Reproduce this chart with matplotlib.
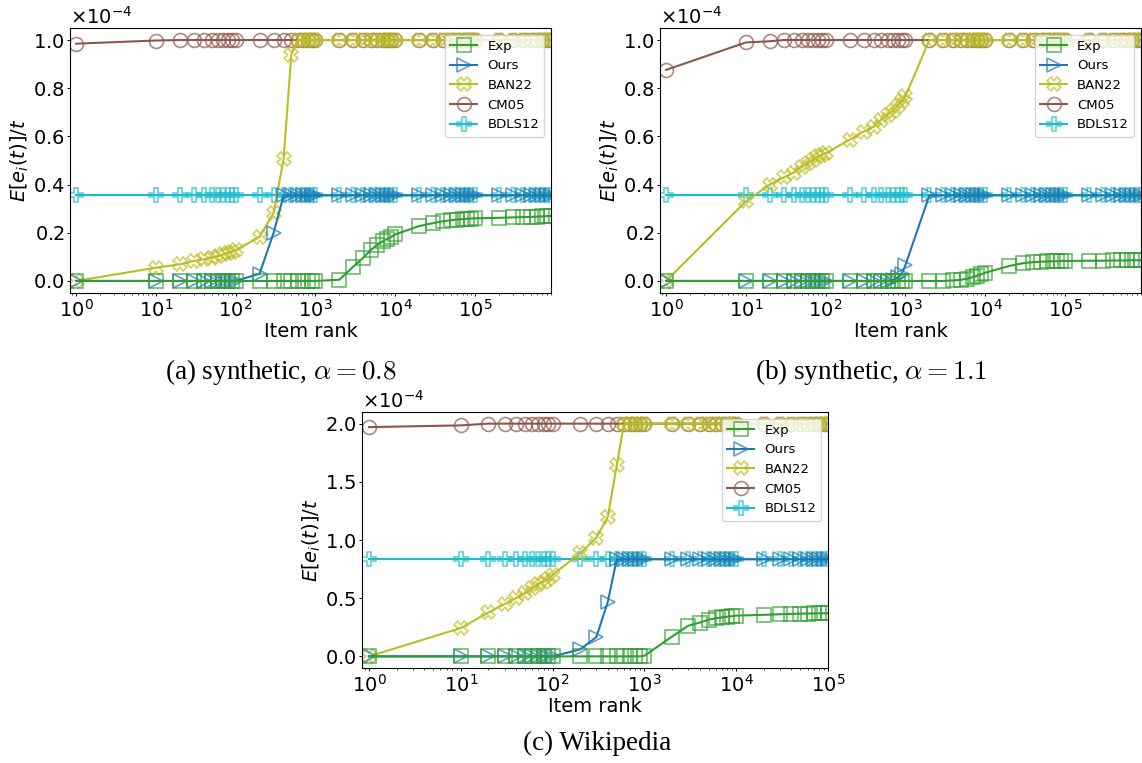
import numpy as np
import matplotlib
matplotlib.use('Agg')
import matplotlib.pyplot as plt

# item ranks at which the estimates were recorded
ranks_syn = [1, 10, 20, 30, 40, 50, 60, 70, 80, 90, 100,
             200, 300, 400, 500, 600, 700, 800, 900, 1000,
             2000, 3000, 4000, 5000, 6000, 7000, 8000, 9000, 10000,
             20000, 30000, 40000, 50000, 60000, 70000, 80000, 90000, 100000,
             200000, 300000, 400000, 500000, 600000, 700000, 800000, 900000]
ranks_wiki = ranks_syn[:38]
decades = [1e0, 1e1, 1e2, 1e3, 1e4, 1e5]

# E[e_i(t)]/t in units of 1e-4
# synthetic, alpha = 0.8
exp_a  = [0, 0, 0, 0, 0, 0, 0, 0, 0, 0, 0,
          0, 0, 0, 0, 0, 0, 0, 0, 0,
          0.005, 0.06, 0.097, 0.13, 0.15, 0.165, 0.175, 0.183, 0.193,
          0.228, 0.24, 0.248, 0.252, 0.255, 0.257, 0.258, 0.259, 0.26,
          0.262, 0.264, 0.265, 0.266, 0.267, 0.268, 0.269, 0.27]
ours_a = [0, 0, 0, 0, 0, 0, 0, 0, 0, 0, 0,
          0.03, 0.2, 0.355, 0.355, 0.355, 0.355, 0.355, 0.355, 0.355,
          0.355, 0.355, 0.355, 0.355, 0.355, 0.355, 0.355, 0.355, 0.355,
          0.355, 0.355, 0.355, 0.355, 0.355, 0.355, 0.355, 0.355, 0.355,
          0.355, 0.355, 0.355, 0.355, 0.355, 0.355, 0.355, 0.355]
ban_a  = [0, 0.055, 0.069, 0.083, 0.09, 0.097, 0.103, 0.11, 0.117, 0.121, 0.128,
          0.183, 0.283, 0.506, 0.94, 1, 1, 1, 1, 1,
          1, 1, 1, 1, 1, 1, 1, 1, 1,
          1, 1, 1, 1, 1, 1, 1, 1, 1,
          1, 1, 1, 1, 1, 1, 1, 1]
cm_a   = [0.985, 0.998, 1, 1, 1, 1, 1, 1, 1, 1, 1,
          1, 1, 1, 1, 1, 1, 1, 1, 1,
          1, 1, 1, 1, 1, 1, 1, 1, 1,
          1, 1, 1, 1, 1, 1, 1, 1, 1,
          1, 1, 1, 1, 1, 1, 1, 1]
bdls_a = [0.355] * 46

# synthetic, alpha = 1.1
exp_b  = [0, 0, 0, 0, 0, 0, 0, 0, 0, 0, 0,
          0, 0, 0, 0, 0, 0, 0, 0, 0,
          0, 0, 0.002, 0.005, 0.01, 0.016, 0.022, 0.028, 0.034,
          0.062, 0.074, 0.078, 0.08, 0.081, 0.082, 0.082, 0.083, 0.083,
          0.084, 0.084, 0.085, 0.085, 0.085, 0.086, 0.086, 0.086]
ours_b = [0, 0, 0, 0, 0, 0, 0, 0, 0, 0, 0,
          0, 0, 0, 0, 0, 0.005, 0.015, 0.03, 0.065,
          0.355, 0.355, 0.355, 0.355, 0.355, 0.355, 0.355, 0.355, 0.355,
          0.355, 0.355, 0.355, 0.355, 0.355, 0.355, 0.355, 0.355, 0.355,
          0.355, 0.355, 0.355, 0.355, 0.355, 0.355, 0.355, 0.355]
ban_b  = [0, 0.33, 0.40, 0.43, 0.45, 0.475, 0.49, 0.503, 0.517, 0.524, 0.53,
          0.586, 0.62, 0.64, 0.67, 0.69, 0.706, 0.727, 0.745, 0.766,
          1, 1, 1, 1, 1, 1, 1, 1, 1,
          1, 1, 1, 1, 1, 1, 1, 1, 1,
          1, 1, 1, 1, 1, 1, 1, 1]
cm_b   = [0.876, 0.99, 0.995, 1, 1, 1, 1, 1, 1, 1, 1,
          1, 1, 1, 1, 1, 1, 1, 1, 1,
          1, 1, 1, 1, 1, 1, 1, 1, 1,
          1, 1, 1, 1, 1, 1, 1, 1, 1,
          1, 1, 1, 1, 1, 1, 1, 1]
bdls_b = [0.355] * 46

# Wikipedia
exp_c  = [0, 0, 0, 0, 0, 0, 0, 0, 0, 0, 0,
          0, 0, 0, 0, 0, 0, 0, 0, 0.005,
          0.17, 0.263, 0.29, 0.315, 0.327, 0.335, 0.341, 0.345, 0.35,
          0.357, 0.362, 0.365, 0.367, 0.368, 0.369, 0.37, 0.37, 0.371]
ours_c = [0, 0, 0, 0, 0, 0, 0, 0, 0, 0, 0,
          0.06, 0.166, 0.47, 0.834, 0.834, 0.834, 0.834, 0.834, 0.834,
          0.834, 0.834, 0.834, 0.834, 0.834, 0.834, 0.834, 0.834, 0.834,
          0.834, 0.834, 0.834, 0.834, 0.834, 0.834, 0.834, 0.834, 0.834]
ban_c  = [0, 0.243, 0.377, 0.45, 0.5, 0.543, 0.586, 0.623, 0.643, 0.666, 0.7,
          0.886, 1.02, 1.2, 1.643, 2, 2, 2, 2, 2,
          2, 2, 2, 2, 2, 2, 2, 2, 2,
          2, 2, 2, 2, 2, 2, 2, 2, 2]
cm_c   = [1.97, 1.985, 2, 2, 2, 2, 2, 2, 2, 2, 2,
          2, 2, 2, 2, 2, 2, 2, 2, 2,
          2, 2, 2, 2, 2, 2, 2, 2, 2,
          2, 2, 2, 2, 2, 2, 2, 2, 2]
bdls_c = [0.834] * 38

names   = ['Exp', 'Ours', 'BAN22', 'CM05', 'BDLS12']
colors  = ['tab:green', 'tab:blue', 'tab:olive', 'tab:brown', 'tab:cyan']
markers = ['s', '>', 'X', 'o', 'P']

fig = plt.figure(figsize=(11.42, 7.63), dpi=100)
W, H = 1142.0, 763.0

def make_axes(x0, y0, x1, y1):
  return fig.add_axes([x0 / W, 1 - y1 / H, (x1 - x0) / W, (y1 - y0) / H])

def draw_panel(ax, ranks, series, xmax):
  handles = [None] * len(series)
  # draw back to front so Exp/Ours end up on top
  for i in reversed(range(len(series))):
    ec = matplotlib.colors.to_rgba(colors[i], 0.7)
    h, = ax.plot(ranks, np.array(series[i]) * 1e-4, color=colors[i], lw=1.5,
                 marker=markers[i], markersize=10, markerfacecolor='none',
                 markeredgecolor=ec, markeredgewidth=1.2, label=names[i])
    handles[i] = h
  ax.set_xscale('log')
  ax.set_xticks(decades)
  ax.set_xlim(0.84, xmax)
  ax.ticklabel_format(axis='y', style='sci', scilimits=(0, 0), useMathText=True)
  ax.tick_params(which='major', labelsize=14, length=2.5, width=0.7, pad=1.5)
  ax.tick_params(which='minor', length=1.5, width=0.5)
  ax.yaxis.get_offset_text().set_fontsize(14)
  ax.set_xlabel('Item rank', fontsize=14, labelpad=1)
  ax.set_ylabel(r'$E[e_i(t)]/t$', fontsize=14, labelpad=1)
  ax.legend(handles=handles, loc='upper right', fontsize=9.5)

ax_a = make_axes(70, 28, 551, 293)
draw_panel(ax_a, ranks_syn, [exp_a, ours_a, ban_a, cm_a, bdls_a], 9e5)
ax_b = make_axes(660, 28, 1141, 293)
draw_panel(ax_b, ranks_syn, [exp_b, ours_b, ban_b, cm_b, bdls_b], 9e5)
ax_c = make_axes(362, 412, 828, 668)
draw_panel(ax_c, ranks_wiki, [exp_c, ours_c, ban_c, cm_c, bdls_c], 1e5)

# sub-figure captions, LaTeX-style serif
cap = dict(fontsize=19.5, family='Liberation Serif', math_fontfamily='cm',
           ha='center', va='center')
fig.text(281 / W, 1 - 372 / H, r'(a) synthetic, $\alpha = 0.8$', **cap)
fig.text(871 / W, 1 - 372 / H, r'(b) synthetic, $\alpha = 1.1$', **cap)
fig.text(597 / W, 1 - 743 / H, '(c) Wikipedia', **cap)

plt.savefig('out.png', dpi=100)
plt.close()
